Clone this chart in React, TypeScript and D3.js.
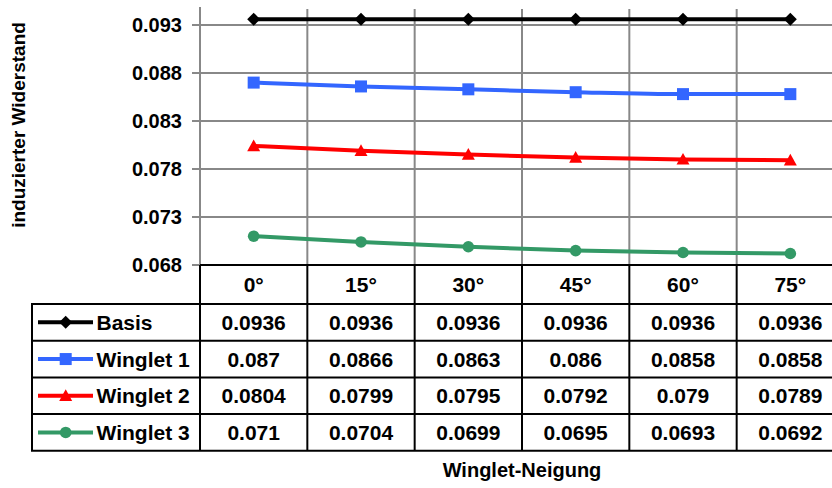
import React from "react";
import * as d3 from "d3";

const categories = ["0°", "15°", "30°", "45°", "60°", "75°"];
const seriesNames = ["Basis", "Winglet 1", "Winglet 2", "Winglet 3"];
const basis = [0.0936, 0.0936, 0.0936, 0.0936, 0.0936, 0.0936];
const winglet1 = [0.087, 0.0866, 0.0863, 0.086, 0.0858, 0.0858];
const winglet2 = [0.0804, 0.0799, 0.0795, 0.0792, 0.079, 0.0789];
const winglet3 = [0.071, 0.0704, 0.0699, 0.0695, 0.0693, 0.0692];
const yTicks = [0.068, 0.073, 0.078, 0.083, 0.088, 0.093];
const yTitle = "induzierter Widerstand";
const xTitle = "Winglet-Neigung";

const seriesValues = [basis, winglet1, winglet2, winglet3];
const colors = ["#000000", "#3366FF", "#FF0000", "#339966"];
const markers = ["diamond", "square", "triangle", "circle"];

const W = 832;
const H = 488;
const plotLeft = 200;
const plotRight = 844;
const plotTop = 7;
const plotBottom = 265;
const headerBottom = 304;
const rowH = 36.7;
const tableLeft = 32;
const font = "'Liberation Sans', Arial, sans-serif";

function Marker({ type, x, y, color }: { type: string; x: number; y: number; color: string }) {
  if (type === "diamond") {
    const s = 6.5;
    return <path d={`M${x},${y - s}L${x + s},${y}L${x},${y + s}L${x - s},${y}Z`} fill={color} />;
  }
  if (type === "square") {
    const s = 6;
    return <rect x={x - s} y={y - s} width={2 * s} height={2 * s} fill={color} />;
  }
  if (type === "triangle") {
    const s = 6.5;
    return <path d={`M${x},${y - s}L${x + s},${y + s * 0.8}L${x - s},${y + s * 0.8}Z`} fill={color} />;
  }
  return <circle cx={x} cy={y} r={5.8} fill={color} />;
}

export default function App() {
  const x = d3.scaleBand<string>().domain(categories).range([plotLeft, plotRight]);
  const y = d3.scaleLinear().domain([0.068, 0.095]).range([plotBottom, plotBottom - 0.027 * 9600]);
  const line = d3
    .line<number>()
    .x((_, i) => (x(categories[i]) as number) + x.bandwidth() / 2)
    .y((d) => y(d))
    .curve(d3.curveMonotoneX);

  const colBounds = categories.map((c) => x(c) as number).concat([plotRight]);
  const rowTops = seriesNames.map((_, i) => headerBottom + i * rowH);
  const tableBottom = headerBottom + seriesNames.length * rowH;

  return (
    <svg
      width={W}
      height={H}
      style={{ position: "absolute", left: 0, top: 0, background: "#fff" }}
      fontFamily={font}
      fontWeight="bold"
    >
      <rect x={0} y={0} width={W} height={H} fill="#fff" />
      {/* horizontal gridlines */}
      {yTicks.map((t) => (
        <line key={t} x1={192} x2={W} y1={y(t)} y2={y(t)} stroke="#888" strokeWidth={2} />
      ))}
      {/* vertical gridlines */}
      {colBounds.slice(1).map((b, i) => (
        <line key={i} x1={b} x2={b} y1={plotTop + 2} y2={plotBottom} stroke="#888" strokeWidth={2} />
      ))}
      <line x1={plotLeft} x2={plotLeft} y1={plotTop} y2={plotBottom} stroke="#888" strokeWidth={2} />
      {/* y tick labels */}
      {yTicks.map((t) => (
        <text key={t} x={182} y={y(t) + 7} textAnchor="end" fontSize={20} fill="#000">
          {t.toFixed(3)}
        </text>
      ))}
      <text
        transform={`translate(25,125) rotate(-90)`}
        textAnchor="middle"
        fontSize={19}
        fill="#000"
      >
        {yTitle}
      </text>
      {/* series */}
      {seriesValues.map((vals, si) => (
        <g key={si}>
          <path d={line(vals) || ""} fill="none" stroke={colors[si]} strokeWidth={4} />
          {vals.map((v, i) => (
            <Marker
              key={i}
              type={markers[si]}
              x={(x(categories[i]) as number) + x.bandwidth() / 2}
              y={y(v)}
              color={colors[si]}
            />
          ))}
        </g>
      ))}
      {/* table */}
      <line x1={plotLeft} x2={W} y1={plotBottom} y2={plotBottom} stroke="#000" strokeWidth={2} />
      {colBounds.map((b, i) => (
        <line key={i} x1={b} x2={b} y1={plotBottom} y2={tableBottom} stroke="#000" strokeWidth={2} />
      ))}
      <line x1={tableLeft} x2={tableLeft} y1={headerBottom} y2={tableBottom} stroke="#000" strokeWidth={2} />
      {rowTops.concat([tableBottom]).map((r, i) => (
        <line key={i} x1={tableLeft - 1} x2={W} y1={r} y2={r} stroke="#000" strokeWidth={2} />
      ))}
      {categories.map((c) => (
        <text
          key={c}
          x={(x(c) as number) + x.bandwidth() / 2}
          y={(plotBottom + headerBottom) / 2 + 7.5}
          textAnchor="middle"
          fontSize={21}
          fill="#000"
        >
          {c}
        </text>
      ))}
      {seriesNames.map((name, si) => {
        const cy = rowTops[si] + rowH / 2;
        return (
          <g key={name}>
            <line x1={38} x2={93} y1={cy} y2={cy} stroke={colors[si]} strokeWidth={4} />
            <Marker type={markers[si]} x={65.7} y={cy} color={colors[si]} />
            <text x={96.5} y={cy + 7.5} fontSize={21} fill="#000">
              {name}
            </text>
            {seriesValues[si].map((v, i) => (
              <text
                key={i}
                x={(x(categories[i]) as number) + x.bandwidth() / 2}
                y={cy + 7.5}
                textAnchor="middle"
                fontSize={21}
                fill="#000"
              >
                {String(v)}
              </text>
            ))}
          </g>
        );
      })}
      <text x={522} y={476.5} textAnchor="middle" fontSize={20} fill="#000">
        {xTitle}
      </text>
    </svg>
  );
}
